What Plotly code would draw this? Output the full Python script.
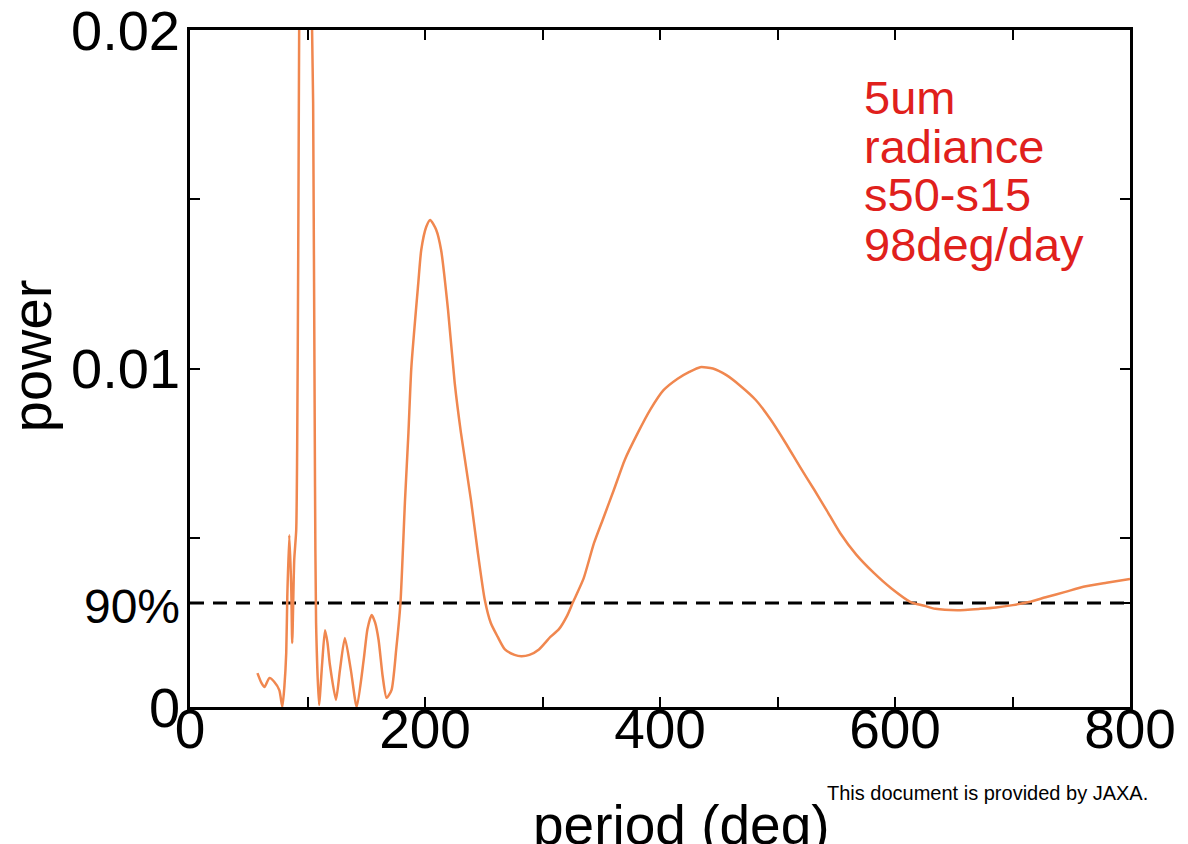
import plotly.graph_objects as go

period = [57.4, 60.8, 63.4, 67.6, 71.8, 76.0, 78.6, 80.3, 81.9, 82.8, 84.5, 86.2, 87.0, 88.7, 90.4, 91.2,
          92.1, 92.9, 94.5, 96.5, 98.5, 100.5, 102.5, 103.9, 104.8, 106.4, 107.3, 109.8, 112.5, 114.9,
          117.0, 119.1, 124.2, 127.6, 131.8, 136.9, 141.9, 147.8, 151.0, 154.6, 157.5, 160.5, 164.0,
          167.3, 171.5, 175.5, 179.1, 183.0, 185.9, 188.4, 194.3, 196.8, 201.0, 204.4, 209.5, 213.7,
          219.6, 225.3, 230.6, 239.1, 245.0, 250.9, 256.0, 261.9, 268.0, 276.2, 282.0, 288.9, 297.0,
          306.7, 314.0, 321.0, 326.0, 335.0, 343.8, 352.0, 360.7, 370.0, 381.0, 392.0, 403.0, 415.0,
          425.0, 434.2, 445.0, 456.2, 468.0, 481.5, 494.0, 506.9, 519.0, 531.4, 542.0, 553.3, 567.0,
          582.0, 597.0, 613.3, 624.0, 634.4, 653.0, 672.4, 686.0, 700.3, 714.0, 729.0, 745.0, 760.3,
          780.0, 800.0]
power = [0.00100, 0.00071, 0.00059, 0.00086, 0.00074, 0.00050, 0.00000, 0.00059, 0.00160, 0.00325,
         0.00508, 0.00346, 0.00189, 0.00434, 0.00523, 0.00759, 0.01335, 0.02000, 0.03000, 0.03700,
         0.03900, 0.03600, 0.02800, 0.02000, 0.01784, 0.00650, 0.00248, 0.00006, 0.00130, 0.00227,
         0.00190, 0.00124, 0.00021, 0.00109, 0.00204, 0.00109, 0.00000, 0.00139, 0.00230, 0.00272,
         0.00250, 0.00198, 0.00090, 0.00027, 0.00050, 0.00170, 0.00307, 0.00612, 0.00810, 0.01004,
         0.01253, 0.01350, 0.01418, 0.01439, 0.01410, 0.01350, 0.01173, 0.00957, 0.00810, 0.00612,
         0.00455, 0.00316, 0.00248, 0.00207, 0.00170, 0.00154, 0.00150, 0.00154, 0.00170, 0.00207,
         0.00230, 0.00270, 0.00310, 0.00380, 0.00484, 0.00560, 0.00641, 0.00730, 0.00809, 0.00880,
         0.00936, 0.00970, 0.00990, 0.01004, 0.01000, 0.00981, 0.00950, 0.00907, 0.00850, 0.00780,
         0.00710, 0.00641, 0.00580, 0.00514, 0.00450, 0.00396, 0.00350, 0.00310, 0.00300, 0.00290,
         0.00286, 0.00290, 0.00294, 0.00301, 0.00310, 0.00325, 0.00340, 0.00355, 0.00367, 0.00378]

level90 = 0.00307
x_range = [0, 800]
y_range = [0, 0.02]
x_ticks = [0, 100, 200, 300, 400, 500, 600, 700, 800]
x_ticklabels = ["0", "", "200", "", "400", "", "600", "", "800"]
y_ticks = [0, level90, 0.005, 0.01, 0.015, 0.02]
y_ticklabels = ["0", "<span style='font-size:48px'>90%</span>", "", "0.01", "", ""]
y_top_label = "0.02"
info_lines = ["5um", "radiance", "s50-s15", "98deg/day"]

W, H = 1188, 844
L, R, T, B = 190, 51, 30, 137
pw, ph = W - L - R, H - T - B


def px_to_paper_x(px):
    return (px - L) / pw


def px_to_paper_y(py):
    return (H - B - py) / ph


fig = go.Figure()
fig.add_trace(go.Scatter(x=x_range, y=[level90, level90], mode="lines",
                         line=dict(color="black", width=3, dash="14px,9px"),
                         hoverinfo="skip", showlegend=False))
fig.add_trace(go.Scatter(x=period, y=power, mode="lines",
                         line=dict(color="#F0874F", width=2.5, shape="spline", smoothing=0.6),
                         showlegend=False))

font = "Liberation Sans, Arial, sans-serif"
fig.update_layout(
    width=W, height=H,
    margin=dict(l=L, r=R, t=T, b=B, pad=0),
    paper_bgcolor="white", plot_bgcolor="white",
    font=dict(family=font, color="black"),
    showlegend=False,
    xaxis=dict(range=x_range, tickmode="array", tickvals=x_ticks, ticktext=x_ticklabels,
               ticks="inside", ticklen=10, tickwidth=2, tickcolor="black",
               showline=True, linecolor="black", linewidth=2.5, mirror="ticks",
               showgrid=False, zeroline=False, tickfont=dict(size=55, family=font),
               ticklabelstandoff=-28),
    yaxis=dict(range=y_range, tickmode="array", tickvals=y_ticks, ticktext=y_ticklabels,
               ticks="inside", ticklen=10, tickwidth=2, tickcolor="black",
               showline=True, linecolor="black", linewidth=2.5, mirror="ticks",
               showgrid=False, zeroline=False, tickfont=dict(size=56, family=font),
               ticklabelstandoff=-4),
)

# top y tick label (placed at the y=0.02 tick)
fig.add_annotation(text=y_top_label, xref="paper", yref="y", x=px_to_paper_x(182),
                   y=y_range[1], xanchor="right", yanchor="middle", showarrow=False,
                   font=dict(size=56, family=font, color="black"))

centers = [97, 146, 195, 244]
for txt, cy in zip(info_lines, centers):
    fig.add_annotation(text=txt, xref="paper", yref="paper", x=px_to_paper_x(867),
                       y=px_to_paper_y(cy), xanchor="left", yanchor="middle", showarrow=False,
                       font=dict(size=47, color="#E0201C", family=font))

fig.add_annotation(text="period (deg)", xref="paper", yref="paper", x=px_to_paper_x(685),
                   y=px_to_paper_y(825), xanchor="center", yanchor="middle", showarrow=False,
                   font=dict(size=55, family=font, color="black"))
fig.add_annotation(text="power", xref="paper", yref="paper", x=px_to_paper_x(30),
                   y=px_to_paper_y(356), xanchor="center", yanchor="middle", showarrow=False,
                   textangle=-90, font=dict(size=56, family=font, color="black"))
fig.add_annotation(text="This document is provided by JAXA.", xref="paper", yref="paper",
                   x=px_to_paper_x(830), y=px_to_paper_y(793), xanchor="left", yanchor="middle",
                   showarrow=False, font=dict(size=20, family=font, color="black"))

fig.write_html("out.html")
